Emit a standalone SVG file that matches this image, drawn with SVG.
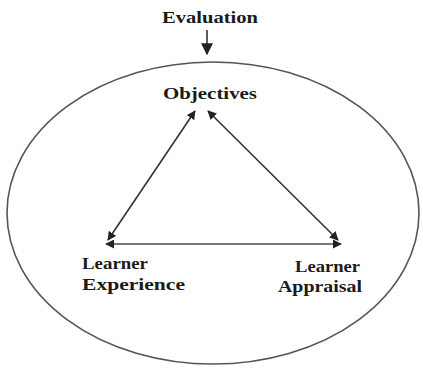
<svg xmlns="http://www.w3.org/2000/svg" width="423" height="371" viewBox="0 0 423 371">
<style>
text{font-family:"Liberation Serif","Times New Roman",serif;font-weight:bold;font-size:16.5px;fill:#1a1a1a}
.c{stroke:#333;stroke-width:1.6;fill:none}
.h{stroke:#777;stroke-width:2;fill:none}
</style>
<defs>
<marker id="ah" viewBox="0 0 10 10" refX="9" refY="5" markerWidth="9" markerHeight="9" markerUnits="userSpaceOnUse" orient="auto-start-reverse">
<path d="M0,0 L10,5 L0,10 z" fill="#222"/>
</marker>
<marker id="ah2" viewBox="0 0 10 10" refX="9" refY="5" markerWidth="12" markerHeight="12" markerUnits="userSpaceOnUse" orient="auto-start-reverse">
<path d="M0,0 L10,5 L0,10 z" fill="#222"/>
</marker>
</defs>
<rect width="423" height="371" fill="#fff"/>
<ellipse id="boundary" cx="213" cy="213" rx="206" ry="151" fill="none" stroke="#555" stroke-width="1.6"/>
<g id="evaluation"><text x="210" y="23" text-anchor="middle" textLength="96" lengthAdjust="spacingAndGlyphs">Evaluation</text></g>
<g id="objectives"><text x="210" y="99" text-anchor="middle" textLength="94" lengthAdjust="spacingAndGlyphs">Objectives</text></g>
<g id="learner-experience"><text x="82" y="269" textLength="66" lengthAdjust="spacingAndGlyphs">Learner</text><text x="82" y="290" textLength="103" lengthAdjust="spacingAndGlyphs">Experience</text></g>
<g id="learner-appraisal"><text x="360" y="272" text-anchor="end" textLength="65" lengthAdjust="spacingAndGlyphs">Learner</text><text x="362" y="292" text-anchor="end" textLength="84" lengthAdjust="spacingAndGlyphs">Appraisal</text></g>
<g id="connectors">
<line class="c" x1="207" y1="30" x2="207" y2="54" stroke-width="2" marker-end="url(#ah2)"/>
<line class="c" x1="195" y1="111" x2="108" y2="240" marker-start="url(#ah)" marker-end="url(#ah)"/>
<line class="c" x1="208" y1="111" x2="338" y2="240" marker-start="url(#ah)" marker-end="url(#ah)"/>
<line class="h" x1="106" y1="244" x2="341" y2="244" marker-start="url(#ah)" marker-end="url(#ah)"/>
</g>
</svg>
